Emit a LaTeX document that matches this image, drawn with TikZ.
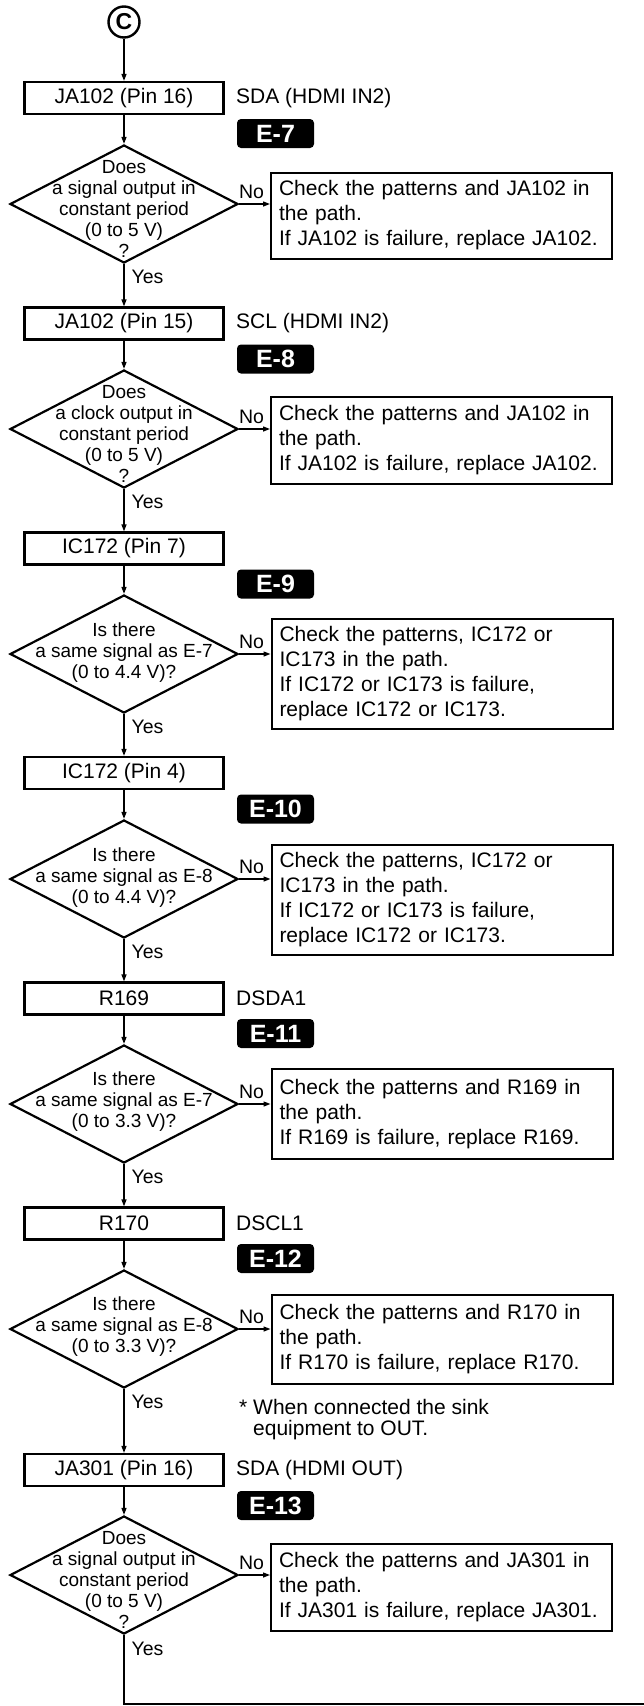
\documentclass[tikz,border=0pt]{standalone}
\usepackage{fontspec}
\setmainfont{Liberation Sans}
\usetikzlibrary{arrows.meta,shapes.geometric,calc}
\tikzset{
  proc/.style={draw, line width=2.2pt, minimum width=199pt, minimum height=32pt,
    inner sep=0pt, font=\fontsize{21}{24}\selectfont},
  decision/.style={draw, diamond, line width=2.2pt, minimum width=228pt,
    minimum height=118pt, inner sep=0pt},
  qtext/.style={align=center, inner sep=0pt, font=\fontsize{19}{21}\selectfont},
  fixbox/.style={draw, line width=2pt, text width=325pt, inner xsep=8pt,
    align=left, font=\fontsize{21}{25}\selectfont},
  badge/.style={fill=black, rounded corners=4pt, minimum width=77pt,
    minimum height=29pt, inner sep=0pt, text=white,
    font=\bfseries\fontsize{25}{25}\selectfont},
  sig/.style={anchor=west, inner sep=0pt, font=\fontsize{21}{24}\selectfont},
  note/.style={anchor=west, inner sep=0pt, align=left,
    font=\fontsize{21}{21}\selectfont},
  yesno/.style={inner sep=0pt, font=\fontsize{19.5}{19.5}\selectfont},
  flow/.style={-{Triangle[length=7pt,width=5pt]}, line width=1.3pt}
}
\begin{document}
\begin{tikzpicture}[x=1pt,y=1pt]
\useasboundingbox (0,0) rectangle (644,-1706);

% Connector C
\node[draw, circle, line width=2.4pt, minimum size=31pt, inner sep=0pt,
  font=\bfseries\fontsize{23}{23}\selectfont] (cstart) at (124,-22) {C};

% E-7: SDA, HDMI IN2
\node[proc] (ja102sda) at (124,-98) {JA102 (Pin 16)};
\node[sig] (sdain) at (236,-98) {SDA (HDMI IN2)};
\node[badge] (e7) at (275.5,-133.5) {E-7};
\node[decision] (q7) at (124,-204) {};
\node[qtext] (q7t) at (124,-209) {Does\\a signal output in\\constant period\\(0 to 5 V)\\?};
\node[fixbox, minimum height=86pt] (fix7) at (441.5,-215.5) {Check the patterns and JA102 in\\the path.\\If JA102 is failure, replace JA102.};
\node[yesno] (no7) at (251.5,-192) {No};
\node[yesno] (yes7) at (147.5,-277) {Yes};

% E-8: SCL, HDMI IN2
\node[proc] (ja102scl) at (124,-323.5) {JA102 (Pin 15)};
\node[sig] (sclin) at (236,-323.5) {SCL (HDMI IN2)};
\node[badge] (e8) at (275.5,-359) {E-8};
\node[decision] (q8) at (124,-429) {};
\node[qtext] (q8t) at (124,-434) {Does\\a clock output in\\constant period\\(0 to 5 V)\\?};
\node[fixbox, minimum height=87pt] (fix8) at (441.5,-440.5) {Check the patterns and JA102 in\\the path.\\If JA102 is failure, replace JA102.};
\node[yesno] (no8) at (251.5,-417) {No};
\node[yesno] (yes8) at (147.5,-502) {Yes};

% E-9: IC172 pin 7
\node[proc] (ic172p7) at (124,-548.5) {IC172 (Pin 7)};
\node[badge] (e9) at (275.5,-584) {E-9};
\node[decision] (q9) at (124,-654) {};
\node[qtext] (q9t) at (124,-653) {Is there\\a same signal as E-7\\(0 to 4.4 V)?};
\node[fixbox, minimum height=110pt] (fix9) at (442,-674) {Check the patterns, IC172 or\\IC173 in the path.\\If IC172 or IC173 is failure,\\replace IC172 or IC173.};
\node[yesno] (no9) at (251.5,-642) {No};
\node[yesno] (yes9) at (147.5,-727) {Yes};

% E-10: IC172 pin 4
\node[proc] (ic172p4) at (124,-773) {IC172 (Pin 4)};
\node[badge] (e10) at (275.5,-809) {E-10};
\node[decision] (q10) at (124,-879) {};
\node[qtext] (q10t) at (124,-878) {Is there\\a same signal as E-8\\(0 to 4.4 V)?};
\node[fixbox, minimum height=110pt] (fix10) at (442,-899.5) {Check the patterns, IC172 or\\IC173 in the path.\\If IC172 or IC173 is failure,\\replace IC172 or IC173.};
\node[yesno] (no10) at (251.5,-867) {No};
\node[yesno] (yes10) at (147.5,-952) {Yes};

% E-11: R169
\node[proc] (r169) at (124,-998.5) {R169};
\node[sig] (dsda) at (236,-998.5) {DSDA1};
\node[badge] (e11) at (275.5,-1033.5) {E-11};
\node[decision] (q11) at (124,-1104) {};
\node[qtext] (q11t) at (124,-1102) {Is there\\a same signal as E-7\\(0 to 3.3 V)?};
\node[fixbox, minimum height=90pt] (fix11) at (442,-1114) {Check the patterns and R169 in\\the path.\\If R169 is failure, replace R169.};
\node[yesno] (no11) at (251.5,-1092) {No};
\node[yesno] (yes11) at (147.5,-1177) {Yes};

% E-12: R170
\node[proc] (r170) at (124,-1223.5) {R170};
\node[sig] (dscl) at (236,-1223.5) {DSCL1};
\node[badge] (e12) at (275.5,-1258.5) {E-12};
\node[decision] (q12) at (124,-1329) {};
\node[qtext] (q12t) at (124,-1327) {Is there\\a same signal as E-8\\(0 to 3.3 V)?};
\node[fixbox, minimum height=89pt] (fix12) at (442,-1339.5) {Check the patterns and R170 in\\the path.\\If R170 is failure, replace R170.};
\node[yesno] (no12) at (251.5,-1317) {No};
\node[yesno] (yes12) at (147.5,-1402) {Yes};
\node[note] (sink) at (239,-1419.5) {* When connected the sink\\\phantom{* }equipment to OUT.};

% E-13: SDA, HDMI OUT
\node[proc] (ja301sda) at (124,-1470) {JA301 (Pin 16)};
\node[sig] (sdaout) at (236,-1470) {SDA (HDMI OUT)};
\node[badge] (e13) at (275.5,-1505.5) {E-13};
\node[decision] (q13) at (124,-1575) {};
\node[qtext] (q13t) at (124,-1580) {Does\\a signal output in\\constant period\\(0 to 5 V)\\?};
\node[fixbox, minimum height=87pt] (fix13) at (441.5,-1587) {Check the patterns and JA301 in\\the path.\\If JA301 is failure, replace JA301.};
\node[yesno] (no13) at (251.5,-1563) {No};
\node[yesno] (yes13) at (147.5,-1649) {Yes};
\coordinate (exit) at (644,-1704);

% Flow arrows
\draw[flow] (cstart) -- (ja102sda);
\draw[flow] (ja102sda) -- (q7);
\draw[flow] (q7.east) -- (q7.east -| fix7.west);
\draw[flow] (q7.south) -- (ja102scl);
\draw[flow] (ja102scl) -- (q8);
\draw[flow] (q8.east) -- (q8.east -| fix8.west);
\draw[flow] (q8.south) -- (ic172p7);
\draw[flow] (ic172p7) -- (q9);
\draw[flow] (q9.east) -- (q9.east -| fix9.west);
\draw[flow] (q9.south) -- (ic172p4);
\draw[flow] (ic172p4) -- (q10);
\draw[flow] (q10.east) -- (q10.east -| fix10.west);
\draw[flow] (q10.south) -- (r169);
\draw[flow] (r169) -- (q11);
\draw[flow] (q11.east) -- (q11.east -| fix11.west);
\draw[flow] (q11.south) -- (r170);
\draw[flow] (r170) -- (q12);
\draw[flow] (q12.east) -- (q12.east -| fix12.west);
\draw[flow] (q12.south) -- (ja301sda);
\draw[flow] (ja301sda) -- (q13);
\draw[flow] (q13.east) -- (q13.east -| fix13.west);
\draw[line width=1.3pt] (q13.south) |- (exit);

\end{tikzpicture}
\end{document}
